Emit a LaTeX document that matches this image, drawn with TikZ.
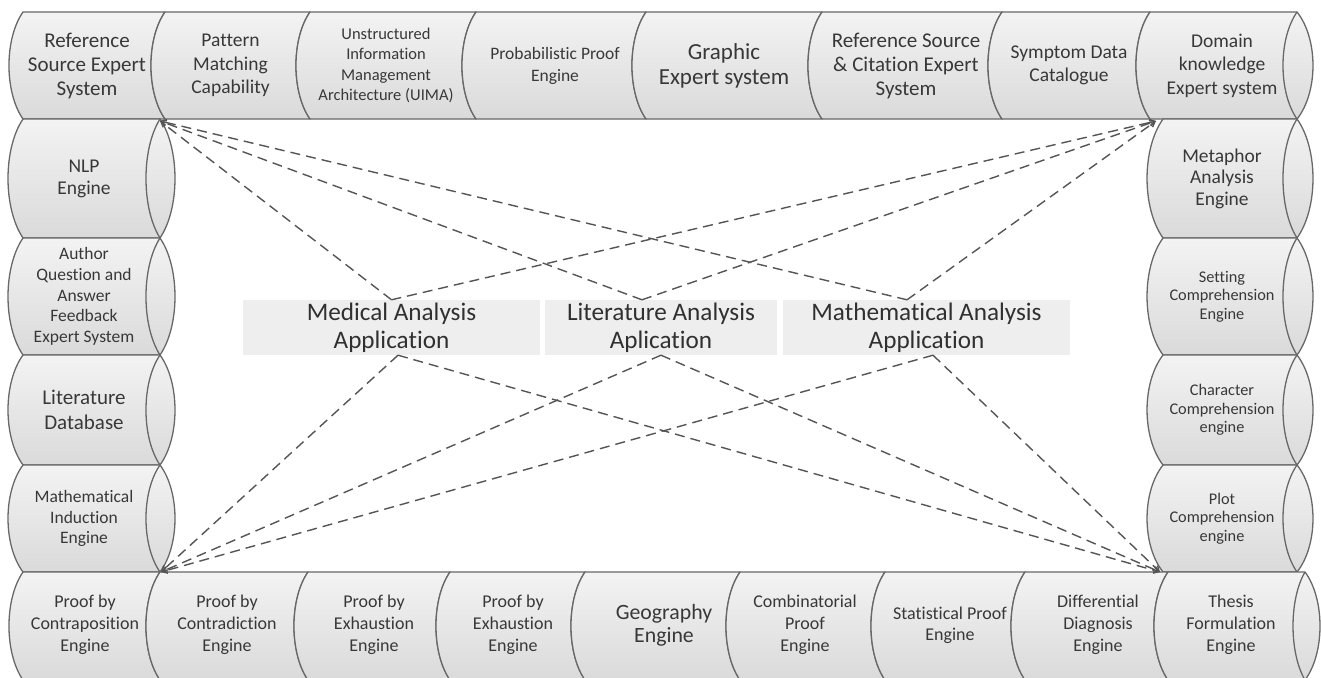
\documentclass[tikz,border=0pt]{standalone}
\usepackage{fontspec}
\setmainfont{Carlito}[Ligatures=NoCommon]
\usetikzlibrary{arrows.meta}
\definecolor{txt}{HTML}{383838}
\definecolor{edge}{HTML}{686868}
\definecolor{cellhi}{HTML}{F3F3F3}
\definecolor{celllo}{HTML}{DADADA}
\definecolor{appbox}{HTML}{EEEEEE}
\definecolor{dashc}{HTML}{555555}

\begin{document}
\begin{tikzpicture}[x=1pt,y=-1pt,
  cell/.style={draw=edge, line width=1.3pt, top color=cellhi, bottom color=celllo, line join=round},
  rim/.style={draw=edge, line width=1.3pt},
  lbl/.style={align=center, text=txt, inner sep=0pt},
  fs/.style 2 args={font=\fontsize{#1}{#2}\selectfont},
  app/.style={fill=appbox, text=txt!85!black, align=center, inner sep=0pt,
              font=\fontsize{25.2}{28}\selectfont},
  link/.style={draw=dashc, line width=1.4pt, dash pattern=on 10pt off 6pt},
  tip/.style={-{Straight Barb[length=5pt,width=6pt]}},
]
\fill[white] (0,0) rectangle (1321,677);
\useasboundingbox (0,0) rectangle (1321,677);

% ---------- top band (horizontal cylinder) ----------
\foreach \a/\b in {23/165,165/310,310/476,476/646,646/822,822/1002,1002/1150}{
  \path[cell] (\a,12) -- (\b,12)
    .. controls ({\b-18.7},38.75) and ({\b-18.7},92.25) .. (\b,119)
    -- (\a,119)
    .. controls ({\a-18.7},92.25) and ({\a-18.7},38.75) .. cycle;
}
\path[cell] (1150,12) -- (1297,12)
  .. controls (1318.3,38.75) and (1318.3,92.25) .. (1297,119)
  -- (1150,119)
  .. controls (1131.3,92.25) and (1131.3,38.75) .. cycle;
\draw[rim] (1297,12) .. controls (1278.3,38.75) and (1278.3,92.25) .. (1297,119);

% ---------- left column ----------
\foreach \t/\u in {119/238,238/355,355/465,465/572}{
  \path[cell] (23,\t) -- (160,\t)
    .. controls (180,{\t+(\u-\t)/4}) and (180,{\u-(\u-\t)/4}) .. (160,\u)
    -- (23,\u)
    .. controls (3,{\u-(\u-\t)/4}) and (3,{\t+(\u-\t)/4}) .. cycle;
  \draw[rim] (160,\t) .. controls (141.3,{\t+(\u-\t)/4}) and (141.3,{\u-(\u-\t)/4}) .. (160,\u);
}

% ---------- right column ----------
\foreach \t/\u in {119/238,238/355,355/465,465/572}{
  \path[cell] (1163,\t) -- (1297,\t)
    .. controls (1318.3,{\t+(\u-\t)/4}) and (1318.3,{\u-(\u-\t)/4}) .. (1297,\u)
    -- (1163,\u)
    .. controls (1141.7,{\u-(\u-\t)/4}) and (1141.7,{\t+(\u-\t)/4}) .. cycle;
  \draw[rim] (1297,\t) .. controls (1278.3,{\t+(\u-\t)/4}) and (1278.3,{\u-(\u-\t)/4}) .. (1297,\u);
}

% ---------- bottom band ----------
\foreach \a/\b in {23/160,160/308,308/450,450/585,585/740,740/885,885/1025,1025/1168}{
  \path[cell] (\a,572) -- (\b,572)
    .. controls ({\b-18.7},599) and ({\b-18.7},653) .. (\b,680)
    -- (\a,680)
    .. controls ({\a-18.7},653) and ({\a-18.7},599) .. cycle;
}
\path[cell] (1168,572) -- (1305,572)
  .. controls (1325,599) and (1325,653) .. (1305,680)
  -- (1168,680)
  .. controls (1149.3,653) and (1149.3,599) .. cycle;
\draw[rim] (1305,572) .. controls (1289,599) and (1289,653) .. (1305,680);

% ---------- labels: top band ----------
\node[lbl,fs={21}{24}]     (t1) at (87,65.5)   {Reference\\Source Expert\\System};
\node[lbl,fs={19.5}{23.5}] (t2) at (230.5,65.5) {Pattern\\Matching\\Capability};
\node[lbl,fs={16.5}{20.5}] (t3) at (386,65.5)  {Unstructured\\Information\\Management\\Architecture (UIMA)};
\node[lbl,fs={17.5}{22}]   (t4) at (555,65.5)  {Probabilistic Proof\\Engine};
\node[lbl,fs={23}{25}]     (t5) at (724,65.5)  {Graphic\\Expert system};
\node[lbl,fs={21}{24}]     (t6) at (906,65.5)  {Reference Source\\\& Citation Expert\\System};
\node[lbl,fs={19.5}{23}]   (t7) at (1069,65.5) {Symptom Data\\Catalogue};
\node[lbl,fs={19.5}{23.5}] (t8) at (1222,65.5) {Domain\\knowledge\\Expert system};

% ---------- labels: left column ----------
\node[lbl,fs={19.5}{22}]   (l1) at (84,178.5) {NLP\\Engine};
\node[lbl,fs={17.5}{20.7}] (l2) at (84,296.5) {Author\\Question and\\Answer\\Feedback\\Expert System};
\node[lbl,fs={21}{25}]     (l3) at (84,410)   {Literature\\Database};
\node[lbl,fs={17.5}{20.5}] (l4) at (84,518.5) {Mathematical\\Induction\\Engine};

% ---------- labels: right column ----------
\node[lbl,fs={19.5}{21.5}] (r1) at (1222,178.5) {Metaphor\\Analysis\\Engine};
\node[lbl,fs={16.3}{18.5}] (r2) at (1222,296.5) {Setting\\Comprehension\\Engine};
\node[lbl,fs={16.3}{18.5}] (r3) at (1222,410)   {Character\\Comprehension\\engine};
\node[lbl,fs={16.3}{18.5}] (r4) at (1222,518.5) {Plot\\Comprehension\\engine};

% ---------- labels: bottom band ----------
\node[lbl,fs={18}{22}]   (b1) at (85,625)   {Proof by\\Contraposition\\Engine};
\node[lbl,fs={18}{22}]   (b2) at (227,625)  {Proof by\\Contradiction\\Engine};
\node[lbl,fs={18}{22}]   (b3) at (374,625)  {Proof by\\Exhaustion\\Engine};
\node[lbl,fs={18}{22}]   (b4) at (513,625)  {Proof by\\Exhaustion\\Engine};
\node[lbl,fs={21.8}{23}] (b5) at (664,625)  {Geography\\Engine};
\node[lbl,fs={18}{22}]   (b6) at (805,625)  {Combinatorial\\Proof\\Engine};
\node[lbl,fs={18}{21}]   (b7) at (950,625)  {Statistical Proof\\Engine};
\node[lbl,fs={18}{22}]   (b8) at (1098,625) {Differential\\Diagnosis\\Engine};
\node[lbl,fs={18}{22}]   (b9) at (1231,625) {Thesis\\Formulation\\Engine};

% ---------- application boxes ----------
\node[app,minimum width=297pt,minimum height=55pt] (med)  at (391.5,327.5) {Medical Analysis\\Application};
\node[app,minimum width=232pt,minimum height=55pt] (lit)  at (661,327.5)   {Literature Analysis\\Aplication};
\node[app,minimum width=287pt,minimum height=55pt] (math) at (926.5,327.5) {Mathematical Analysis\\Application};

% ---------- junction corners ----------
\coordinate (tl) at (160,121);
\coordinate (tr) at (1156,121);
\coordinate (bl) at (161,572);
\coordinate (br) at (1160,572);

% ---------- dashed links ----------
\foreach \s in {tl,tr}{
  \draw[link,tip] (med.north) -- (\s);
  \draw[link,tip] ([xshift=-19pt]lit.north) -- (\s);
  \draw[link,tip] ([xshift=-19.5pt]math.north) -- (\s);
}
\foreach \s in {bl,br}{
  \draw[link,tip] ([xshift=6.5pt]med.south) -- (\s);
  \draw[link,tip] (lit.south) -- (\s);
  \draw[link,tip] ([xshift=6.5pt]math.south) -- (\s);
}
\end{tikzpicture}
\end{document}
